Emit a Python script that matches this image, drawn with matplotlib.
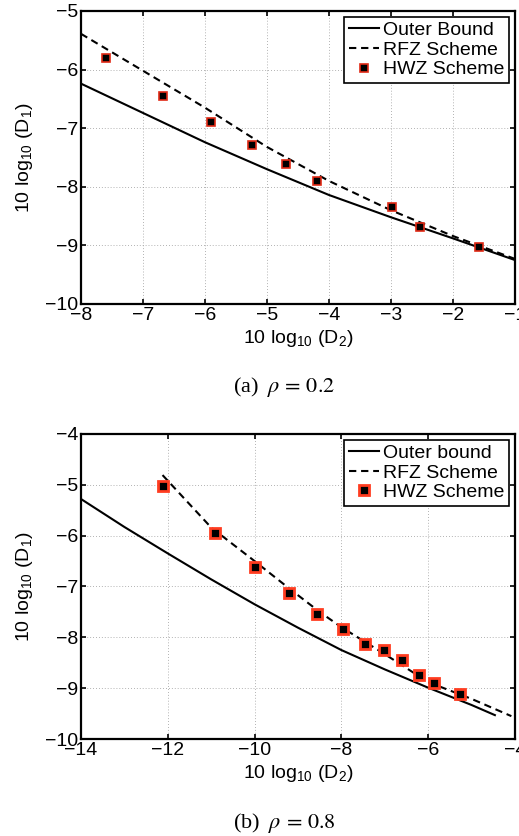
import matplotlib
matplotlib.use("Agg")
import matplotlib.pyplot as plt

plt.rcParams['font.family'] = ['Liberation Sans', 'DejaVu Sans']
plt.rcParams['mathtext.fontset'] = 'custom'
plt.rcParams['mathtext.rm'] = 'Liberation Sans'
plt.rcParams['mathtext.it'] = 'Liberation Sans:italic'

# (a) rho = 0.2
ob_a_x = [-8, -7, -6, -5, -4, -3, -2, -1]
ob_a_y = [-6.24, -6.74, -7.24, -7.70, -8.14, -8.52, -8.88, -9.25]
rfz_a_x = [-8, -7, -6, -5, -4, -3, -2, -1]
rfz_a_y = [-5.39, -6.02, -6.65, -7.32, -7.90, -8.40, -8.84, -9.23]
hwz_a_x = [-7.60, -6.67, -5.90, -5.24, -4.69, -4.19, -2.98, -2.53, -1.58]
hwz_a_y = [-5.81, -6.45, -6.89, -7.28, -7.62, -7.90, -8.34, -8.68, -9.03]

# (b) rho = 0.8
ob_b_x = [-14, -13, -12, -11, -10, -9, -8, -7, -6, -5, -4.46]
ob_b_y = [-5.28, -5.83, -6.35, -6.86, -7.35, -7.81, -8.25, -8.63, -8.99, -9.33, -9.53]
rfz_b_x = [-12.12, -11, -10, -9.2, -8.5, -8, -7, -6, -5, -4.08]
rfz_b_y = [-4.81, -5.84, -6.50, -7.04, -7.50, -7.80, -8.33, -8.88, -9.21, -9.55]
hwz_b_x = [-12.10, -10.90, -9.98, -9.21, -8.56, -7.97, -7.46, -7.01, -6.60, -6.22, -5.87, -5.26]
hwz_b_y = [-5.03, -5.95, -6.61, -7.13, -7.55, -7.84, -8.14, -8.24, -8.44, -8.74, -8.90, -9.12]

fig = plt.figure(figsize=(5.19, 8.36), dpi=100)
ax_a = fig.add_axes([0.156, 0.6364, 0.836, 0.3505])
ax_b = fig.add_axes([0.156, 0.116, 0.836, 0.365])

def style_axes(ax, xlim, ylim, xticks, yticks):
    ax.set_xlim(*xlim)
    ax.set_ylim(*ylim)
    ax.set_xticks(xticks)
    ax.set_yticks(yticks)
    ax.grid(True, linestyle=(0, (1, 2.5)), color='#999999', linewidth=0.6)
    ax.tick_params(direction='in', top=True, right=True, length=3.5, width=1.2,
                   labelsize=14, pad=2)
    for s in ax.spines.values():
        s.set_linewidth(1.6)
    ax.set_xlabel('10 log$_{10}$ (D$_2$)', fontsize=14, labelpad=3)
    ax.set_ylabel('10 log$_{10}$ (D$_1$)', fontsize=14, labelpad=7)

ax_a.plot(ob_a_x, ob_a_y, '-', color='k', lw=1.5, label='Outer Bound')
ax_a.plot(rfz_a_x, rfz_a_y, '--', color='k', lw=1.5, dashes=(3.5, 2.3), label='RFZ Scheme')
ax_a.plot(hwz_a_x, hwz_a_y, 's', color='k', ms=5.5, mec='#e02a15', mew=1.2,
          label='HWZ Scheme')
style_axes(ax_a, (-8, -1), (-10, -5), range(-8, 0), range(-10, -4))

ax_b.plot(ob_b_x, ob_b_y, '-', color='k', lw=1.5, label='Outer bound')
ax_b.plot(rfz_b_x, rfz_b_y, '--', color='k', lw=1.5, dashes=(3.5, 2.3), label='RFZ Scheme')
ax_b.plot(hwz_b_x, hwz_b_y, 's', color='k', ms=6.5, mec='#ff3c20', mew=2.0,
          label='HWZ Scheme')
style_axes(ax_b, (-14, -4), (-10, -4), range(-14, -3, 2), range(-10, -3))

for ax in (ax_a, ax_b):
    leg = ax.legend(loc='upper right', fontsize=14, handlelength=1.55,
                    handletextpad=0.2, labelspacing=0.1, borderpad=0.25,
                    borderaxespad=0.3, fancybox=False, framealpha=1,
                    numpoints=1)
    leg.get_frame().set_edgecolor('k')
    leg.get_frame().set_linewidth(1.2)

fig.text(0.548, 1 - 387 / 836, '(a) $\\;\\rho \\,=\\, 0.2$', ha='center', va='center',
         fontsize=16, family='Liberation Serif', math_fontfamily='stix')
fig.text(0.548, 1 - 823 / 836, '(b) $\\;\\rho \\,=\\, 0.8$', ha='center', va='center',
         fontsize=16, family='Liberation Serif', math_fontfamily='stix')

fig.savefig('out.png', dpi=100)
